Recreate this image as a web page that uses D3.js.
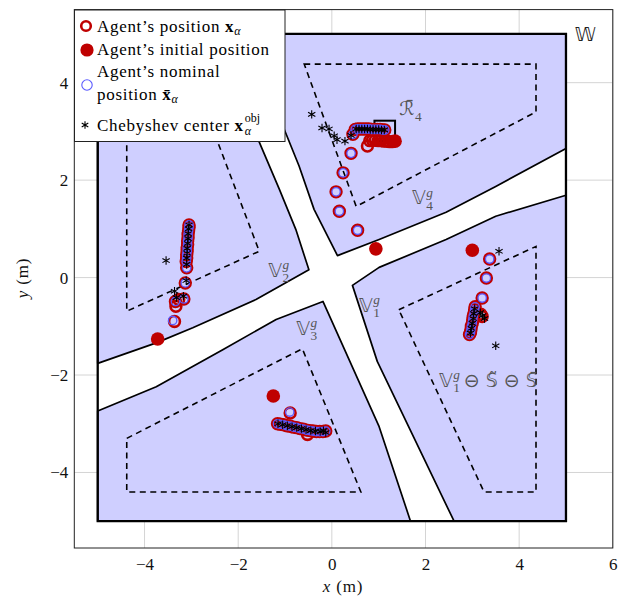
<!DOCTYPE html>
<html>
<head>
<meta charset="utf-8">
<script src="https://cdn.jsdelivr.net/npm/d3@7"></script>
<style>
  body { margin: 0; background: #fff; }
  svg { font-family: 'Liberation Serif', 'DejaVu Serif', serif; }
</style>
</head>
<body>
<svg id="chart" width="623" height="596"></svg>
<script>
// tick values (m)
const xTicks = [-4, -2, 0, 2, 4, 6];
const yTicks = [-4, -2, 0, 2, 4];

// workspace W and the four regions V_i^g (m)
const wsBox = [[-5, 5], [5, 5], [5, -5], [-5, -5]];
const regionV1 = [[0.44, -0.16], [1.01, 0.21], [2.44, 0.78], [3.50, 1.26], [5, 1.69], [5, -5], [2.61, -5], [0.97, -1.72]];
const regionV2 = [[-5, 5], [-2.51, 5], [-1.55, 2.78], [-1.12, 1.81], [-0.77, 0.99], [-0.49, 0.16], [-1.62, -0.45], [-2.97, -1.03], [-3.75, -1.34], [-5, -1.76]];
const regionV3 = [[-0.19, -0.49], [1.01, -3.06], [1.68, -5], [-5, -5], [-5, -2.74], [-3.75, -2.24], [-2.33, -1.48], [-1.19, -0.86]];
const regionV4 = [[-1.87, 5], [5, 5], [5, 2.65], [3.50, 1.87], [2.44, 1.34], [1.01, 0.78], [0.12, 0.45], [-0.38, 1.40], [-0.70, 2.29], [-1.02, 3.05]];

// shrunk sets (dashed)
const innerV1 = [[1.43, -0.66], [4.36, 0.64], [4.36, -4.40], [3.25, -4.40]];
const innerV2 = [[-4.38, 4.38], [-3.07, 4.38], [-1.55, 0.54], [-4.38, -0.69]];
const innerV3 = [[-4.38, -3.30], [-0.63, -1.46], [0.62, -4.40], [-4.38, -4.40]];
const innerV4 = [[-0.59, 4.38], [4.36, 4.38], [4.36, 3.40], [0.52, 1.46]];

// target set R4 (corners)
const targetR4 = [[0.91, 2.80], [1.35, 3.22]];

// agents' initial positions
const agentInit = [[0.94, 0.59], [1.35, 2.80], [-3.72, -1.26], [3.00, 0.56], [-1.25, -2.43]];

// agents' positions
const posV4 = [[0.55, 0.97], [0.16, 1.36], [0.09, 1.76], [0.24, 2.15], [0.41, 2.55], [0.45, 2.94],
  [0.50, 3.04], [0.55, 3.05], [0.61, 3.05], [0.67, 3.05], [0.73, 3.05], [0.79, 3.05], [0.85, 3.04],
  [0.91, 3.04], [0.97, 3.04], [1.03, 3.04], [1.09, 3.03], [1.13, 3.03]];
const trailV4 = [[1.29, 2.79], [1.23, 2.79], [1.17, 2.80], [1.11, 2.80], [1.05, 2.81], [0.99, 2.81],
  [0.93, 2.82], [0.87, 2.82], [0.81, 2.81], [0.76, 2.70]];
const posV2 = [[-3.36, -0.90], [-3.33, -0.59], [-3.34, -0.49], [-3.27, -0.45], [-3.16, -0.44], [-3.13, -0.11], [-3.10, 0.20],
  [-3.11, 0.33], [-3.10, 0.40], [-3.10, 0.47], [-3.09, 0.54], [-3.09, 0.61], [-3.08, 0.68], [-3.08, 0.75],
  [-3.07, 0.82], [-3.07, 0.89], [-3.06, 0.96], [-3.05, 1.03], [-3.05, 1.08]];
const posV1 = [[3.37, 0.38], [3.30, -0.01], [3.21, -0.42], [3.21, -0.80], [3.18, -0.75],
  [3.06, -0.60], [3.05, -0.66], [3.04, -0.72], [3.02, -0.79], [3.01, -0.86], [3.00, -0.93],
  [2.98, -1.00], [2.97, -1.07], [2.96, -1.13], [2.94, -1.17]];
const posV3 = [[-0.89, -2.78], [-0.52, -3.22],
  [-1.16, -3.00], [-1.10, -3.01], [-1.03, -3.02], [-0.96, -3.04], [-0.89, -3.05], [-0.82, -3.07],
  [-0.75, -3.08], [-0.68, -3.10], [-0.61, -3.11], [-0.54, -3.13], [-0.47, -3.14], [-0.40, -3.15],
  [-0.33, -3.16], [-0.26, -3.16], [-0.19, -3.16], [-0.13, -3.15]];

// nominal positions
const nomV4 = posV4;
const nomV2 = [[-3.40, -0.88], [-3.34, -0.49], [-3.16, -0.44], [-3.13, -0.11], [-3.10, 0.20],
  [-3.11, 0.33], [-3.10, 0.40], [-3.10, 0.47], [-3.09, 0.54], [-3.09, 0.61], [-3.08, 0.68], [-3.08, 0.75],
  [-3.07, 0.82], [-3.07, 0.89], [-3.06, 0.96], [-3.05, 1.03], [-3.05, 1.08]];
const nomV1 = [[3.37, 0.38], [3.30, -0.01], [3.21, -0.42],
  [3.06, -0.60], [3.05, -0.66], [3.04, -0.72], [3.02, -0.79], [3.01, -0.86], [3.00, -0.93],
  [2.98, -1.00], [2.97, -1.07], [2.96, -1.13], [2.94, -1.17]];
const nomV3 = [[-0.90, -2.76],
  [-1.16, -3.00], [-1.10, -3.01], [-1.03, -3.02], [-0.96, -3.04], [-0.89, -3.05], [-0.82, -3.07],
  [-0.75, -3.08], [-0.68, -3.10], [-0.61, -3.11], [-0.54, -3.13], [-0.47, -3.14], [-0.40, -3.15],
  [-0.33, -3.16], [-0.26, -3.16], [-0.19, -3.16], [-0.13, -3.15]];

// Chebyshev centers
const chebV4 = [[-0.43, 3.35], [-0.21, 3.07], [-0.06, 3.05], [0.05, 2.91], [0.11, 2.83], [0.28, 2.80], [0.41, 2.92],
  [0.52, 3.05], [0.58, 3.05], [0.64, 3.05], [0.70, 3.05], [0.76, 3.05], [0.82, 3.04], [0.88, 3.04],
  [0.94, 3.04], [1.00, 3.04], [1.06, 3.03], [1.12, 3.03]];
const chebV2 = [[-3.54, 0.35], [-3.36, -0.28], [-3.32, -0.41], [-3.17, -0.38], [-3.11, -0.06], [-3.10, 0.27],
  [-3.10, 0.40], [-3.09, 0.50], [-3.09, 0.60], [-3.08, 0.70], [-3.07, 0.80], [-3.07, 0.90], [-3.06, 1.00], [-3.05, 1.08]];
const chebV1 = [[3.57, 0.54], [3.50, -1.40], [3.22, -0.78], [3.17, -0.72], [3.26, -0.84],
  [3.05, -0.64], [3.03, -0.74], [3.02, -0.84], [3.00, -0.94], [2.98, -1.04], [2.96, -1.14]];
const chebV3 = [[-1.15, -3.00], [-1.05, -3.02], [-0.95, -3.04], [-0.85, -3.06], [-0.75, -3.08], [-0.65, -3.10],
  [-0.55, -3.12], [-0.45, -3.14], [-0.35, -3.15], [-0.25, -3.16], [-0.18, -3.14], [-0.13, -3.18]];

const red = '#bf0000';
const blue = '#5a5aff';
const lavender = '#cfcfff';
const labelGray = '#555';

const svg = d3.select('#chart');

const x = d3.scaleLinear().domain([-5.5, 6]).range([74.3, 612.8]);
const y = d3.scaleLinear().domain([-5.55, 5.5]).range([548, 9.6]);

const line = d3.line().x(d => x(d[0])).y(d => y(d[1]));
const closed = pts => line(pts) + 'Z';

// grid
svg.append('g').selectAll('line').data(xTicks).join('line')
  .attr('x1', d => x(d)).attr('x2', d => x(d))
  .attr('y1', y(-5.55)).attr('y2', y(5.5))
  .attr('stroke', '#d4d4d4');
svg.append('g').selectAll('line').data(yTicks).join('line')
  .attr('y1', d => y(d)).attr('y2', d => y(d))
  .attr('x1', x(-5.5)).attr('x2', x(6))
  .attr('stroke', '#d4d4d4');

// workspace and regions
svg.append('path').attr('d', closed(wsBox)).attr('fill', '#fff').attr('stroke', 'none');
svg.append('g').selectAll('path').data([regionV1, regionV2, regionV3, regionV4]).join('path')
  .attr('d', closed)
  .attr('fill', lavender)
  .attr('stroke', '#000')
  .attr('stroke-width', 1.7)
  .attr('stroke-linejoin', 'round');
svg.append('path').attr('d', closed(wsBox)).attr('fill', 'none')
  .attr('stroke', '#000').attr('stroke-width', 2.3);

svg.append('g').selectAll('path').data([innerV1, innerV2, innerV3, innerV4]).join('path')
  .attr('d', closed)
  .attr('fill', 'none')
  .attr('stroke', '#000')
  .attr('stroke-width', 1.6)
  .attr('stroke-dasharray', '6,4.5');

// target box
svg.append('rect')
  .attr('x', x(targetR4[0][0])).attr('y', y(targetR4[1][1]))
  .attr('width', x(targetR4[1][0]) - x(targetR4[0][0]))
  .attr('height', y(targetR4[0][1]) - y(targetR4[1][1]))
  .attr('fill', 'none').attr('stroke', '#000').attr('stroke-width', 2);

// labels with super/subscripts
const bb = "'DejaVu Sans', 'Noto Sans', sans-serif";
function mathLabel(px, py, base, sup, sub, size, color) {
  const g = svg.append('g').attr('fill', color);
  const t = g.append('text').attr('x', px).attr('y', py).attr('font-size', size)
    .attr('font-family', bb).text(base);
  const w = t.node().getComputedTextLength();
  if (sup) g.append('text').attr('x', px + w + 0.5).attr('y', py - size * 0.42)
    .attr('font-size', size * 0.7).attr('font-style', 'italic').text(sup);
  if (sub) g.append('text').attr('x', px + w + 0.5).attr('y', py + size * 0.3)
    .attr('font-size', size * 0.7).text(sub);
  return px + w;
}
svg.append('text').attr('x', x(5.19)).attr('y', y(4.86)).attr('font-size', 19)
  .attr('font-family', bb).attr('fill', '#222').text('𝕎');
mathLabel(x(1.71), y(1.50), '𝕍', 'g', '4', 19, labelGray);
mathLabel(x(-1.36), y(0.02), '𝕍', 'g', '2', 19, labelGray);
mathLabel(x(-0.76), y(-1.17), '𝕍', 'g', '3', 19, labelGray);
mathLabel(x(0.58), y(-0.70), '𝕍', 'g', '1', 19, labelGray);
mathLabel(x(1.44), y(3.33), 'ℛ̄', null, '4', 19, labelGray);
{
  const px = mathLabel(x(2.29), y(-2.24), '𝕍', 'g', '1', 19, labelGray);
  svg.append('text').attr('x', px + 11).attr('y', y(-2.24)).attr('font-size', 19)
    .attr('font-family', bb).attr('fill', labelGray).text('⊖ 𝕊̃ ⊖ 𝕊̄');
}

// markers
function ring(data, r, color, sw) {
  svg.append('g').selectAll('circle').data(data).join('circle')
    .attr('cx', d => x(d[0])).attr('cy', d => y(d[1])).attr('r', r)
    .attr('fill', 'none').attr('stroke', color).attr('stroke-width', sw);
}
function asterisk(r) {
  const c = Math.cos(Math.PI / 6) * r, s = Math.sin(Math.PI / 6) * r;
  return `M0,${-r}L0,${r}M${-c},${s}L${c},${-s}M${-c},${-s}L${c},${s}`;
}

ring(trailV4, 5.4, red, 2.6);
ring([...posV4, ...posV2, ...posV1, ...posV3], 5.4, red, 2.6);
svg.append('g').selectAll('circle').data(agentInit).join('circle')
  .attr('cx', d => x(d[0])).attr('cy', d => y(d[1])).attr('r', 6.8)
  .attr('fill', red);
ring([...nomV4, ...nomV2, ...nomV1, ...nomV3], 4.2, blue, 1.3);
svg.append('g').selectAll('path').data([...chebV4, ...chebV2, ...chebV1, ...chebV3]).join('path')
  .attr('transform', d => `translate(${x(d[0])},${y(d[1])})`)
  .attr('d', asterisk(4.2))
  .attr('stroke', '#000').attr('stroke-width', 1.1).attr('fill', 'none');

// frame
svg.append('rect').attr('x', x(-5.5)).attr('y', y(5.5))
  .attr('width', x(6) - x(-5.5)).attr('height', y(-5.55) - y(5.5))
  .attr('fill', 'none').attr('stroke', '#222').attr('stroke-width', 1);

// axes
const xAxis = svg.append('g').attr('transform', `translate(0,${y(-5.55)})`)
  .call(d3.axisBottom(x).tickValues(xTicks).tickSize(0).tickPadding(10));
const yAxis = svg.append('g').attr('transform', `translate(${x(-5.5)},0)`)
  .call(d3.axisLeft(y).tickValues(yTicks).tickSize(0).tickPadding(6));
[xAxis, yAxis].forEach(a => {
  a.select('.domain').remove();
  a.attr('font-family', "'Liberation Serif', serif").attr('font-size', 17);
  a.selectAll('text').attr('fill', '#111');
});

const xl = svg.append('text').attr('x', 343).attr('y', 592).attr('text-anchor', 'middle')
  .attr('font-size', 17).attr('letter-spacing', 0.8).attr('fill', '#111');
xl.append('tspan').attr('font-style', 'italic').text('x');
xl.append('tspan').text(' (m)');
const yl = svg.append('text').attr('transform', 'translate(28,278) rotate(-90)').attr('text-anchor', 'middle')
  .attr('font-size', 17).attr('letter-spacing', 0.8).attr('fill', '#111');
yl.append('tspan').attr('font-style', 'italic').text('y');
yl.append('tspan').text(' (m)');

// legend
const lg = svg.append('g');
lg.append('rect').attr('x', 74.5).attr('y', 10).attr('width', 210.5).attr('height', 131.5)
  .attr('fill', '#fff').attr('stroke', '#222').attr('stroke-width', 1);
lg.append('circle').attr('cx', 86).attr('cy', 26).attr('r', 4.8)
  .attr('fill', 'none').attr('stroke', red).attr('stroke-width', 2.6);
lg.append('circle').attr('cx', 87).attr('cy', 50).attr('r', 6.6).attr('fill', red);
lg.append('circle').attr('cx', 87).attr('cy', 85).attr('r', 5.2)
  .attr('fill', 'none').attr('stroke', blue).attr('stroke-width', 1.1);
lg.append('path').attr('transform', 'translate(85,125)').attr('d', asterisk(3.8))
  .attr('stroke', '#000').attr('stroke-width', 1.1).attr('fill', 'none');

function legendText(px, py, parts) {
  const t = lg.append('text').attr('x', px).attr('y', py).attr('font-size', 17)
    .attr('letter-spacing', 0.7).attr('fill', '#000');
  parts.forEach(p => {
    const s = t.append('tspan').text(p.t);
    if (p.b) s.attr('font-weight', 'bold');
    if (p.i) s.attr('font-style', 'italic');
    if (p.sub) s.attr('font-size', 12).attr('baseline-shift', '-25%');
  });
  return t;
}
legendText(97, 32, [{ t: 'Agent’s position ' }, { t: 'x', b: true }, { t: 'α', i: true, sub: true }]);
legendText(97, 55, [{ t: 'Agent’s initial position' }]);
legendText(97, 77, [{ t: 'Agent’s nominal' }]);
legendText(97, 100, [{ t: 'position ' }, { t: 'x̄', b: true }, { t: 'α', i: true, sub: true }]);
{
  const t = legendText(97, 131, [{ t: 'Chebyshev center ' }, { t: 'x', b: true }]);
  const w = t.node().getComputedTextLength();
  lg.append('text').attr('x', 97 + w + 1).attr('y', 135).attr('font-size', 12)
    .attr('font-style', 'italic').text('α');
  lg.append('text').attr('x', 97 + w + 1).attr('y', 122).attr('font-size', 12).text('obj');
}
</script>
</body>
</html>
